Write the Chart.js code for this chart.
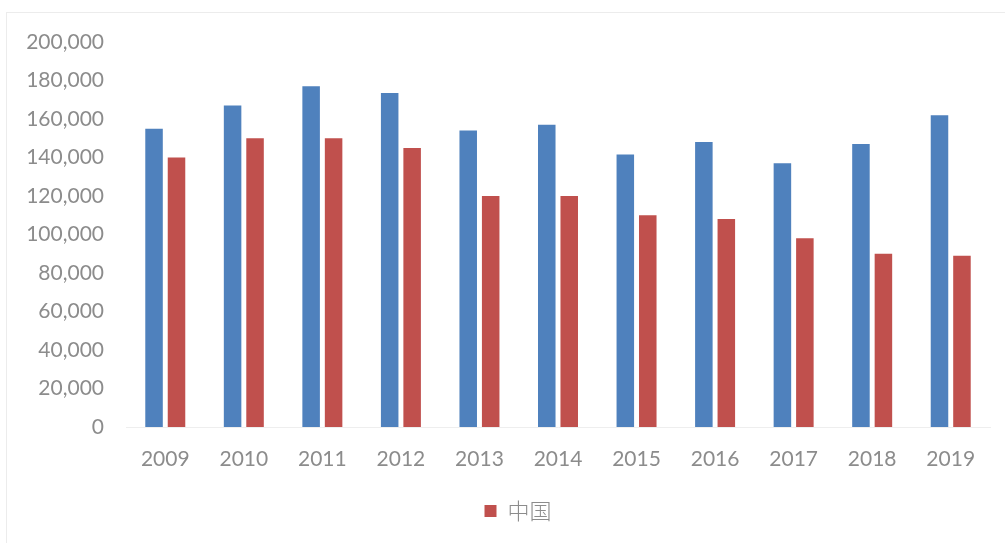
<!DOCTYPE html>
<html>
<head>
<meta charset="utf-8">
<script src="https://cdn.jsdelivr.net/npm/chart.js@4/dist/chart.umd.min.js"></script>
<style>
  html, body { margin: 0; padding: 0; background: #fff; }
  #frame { position: absolute; left: 6px; top: 12px; width: 1010px; height: 540px; border: 1px solid #ececec; box-sizing: border-box; }
  #wrap { position: absolute; left: 0; top: 0; width: 1005px; height: 543px; }
</style>
</head>
<body>
<div id="frame"></div>
<div id="wrap"><canvas id="chart"></canvas></div>
<script>
const years = ['2009', '2010', '2011', '2012', '2013', '2014', '2015', '2016', '2017', '2018', '2019'];
const blueValues = [155000, 167000, 177000, 173500, 154000, 157000, 141500, 148000, 137000, 147000, 162000];
const chinaValues = [140000, 150000, 150000, 145000, 120000, 120000, 110000, 108000, 98000, 90000, 89000];
const yTicks = [0, 20000, 40000, 60000, 80000, 100000, 120000, 140000, 160000, 180000, 200000];

const tickColor = '#8c8c8c';
const tickFont = { family: 'Lato, "Open Sans", sans-serif', size: 21 };

// nudge the legend box a little right and up from where the layout puts it
const legendNudge = {
  id: 'legendNudge',
  afterLayout(chart) {
    const lg = chart.legend;
    if (!lg) return;
    lg.left += 23; lg.right += 23;
    lg.top -= 3; lg.bottom -= 3;
  },
};

const ctx = document.getElementById('chart').getContext('2d');
new Chart(ctx, {
  type: 'bar',
  data: {
    labels: years,
    datasets: [
      {
        label: '',
        data: blueValues,
        backgroundColor: '#4F81BD',
        categoryPercentage: 0.572,
        barPercentage: 0.78,
      },
      {
        label: '中国',
        data: chinaValues,
        backgroundColor: '#C0504D',
        categoryPercentage: 0.572,
        barPercentage: 0.78,
      },
    ],
  },
  plugins: [legendNudge],
  options: {
    responsive: true,
    maintainAspectRatio: false,
    animation: false,
    layout: {
      padding: { top: 42, right: 15, bottom: 8, left: 0 },
    },
    scales: {
      x: {
        grid: { display: false, drawTicks: false },
        border: { display: true, color: '#eeeeee' },
        ticks: { color: tickColor, font: tickFont, padding: 20 },
        afterFit: (scale) => { scale.height = 60; },
      },
      y: {
        min: 0,
        max: 200000,
        grid: { display: false, drawTicks: false },
        border: { display: false },
        afterBuildTicks: (scale) => { scale.ticks = yTicks.map(v => ({ value: v })); },
        ticks: {
          color: tickColor,
          font: tickFont,
          padding: 22,
          callback: (v) => v.toLocaleString('en-US'),
        },
        afterFit: (scale) => { scale.width = 126; },
      },
    },
    plugins: {
      legend: {
        position: 'bottom',
        labels: {
          filter: (item) => item.text !== '',
          boxWidth: 12,
          boxHeight: 12,
          padding: 16,
          color: '#8c8c8c',
          font: { family: '"Noto Sans CJK SC", sans-serif', size: 22, weight: '300' },
        },
      },
      tooltip: { enabled: false },
    },
  },
});
</script>
</body>
</html>
